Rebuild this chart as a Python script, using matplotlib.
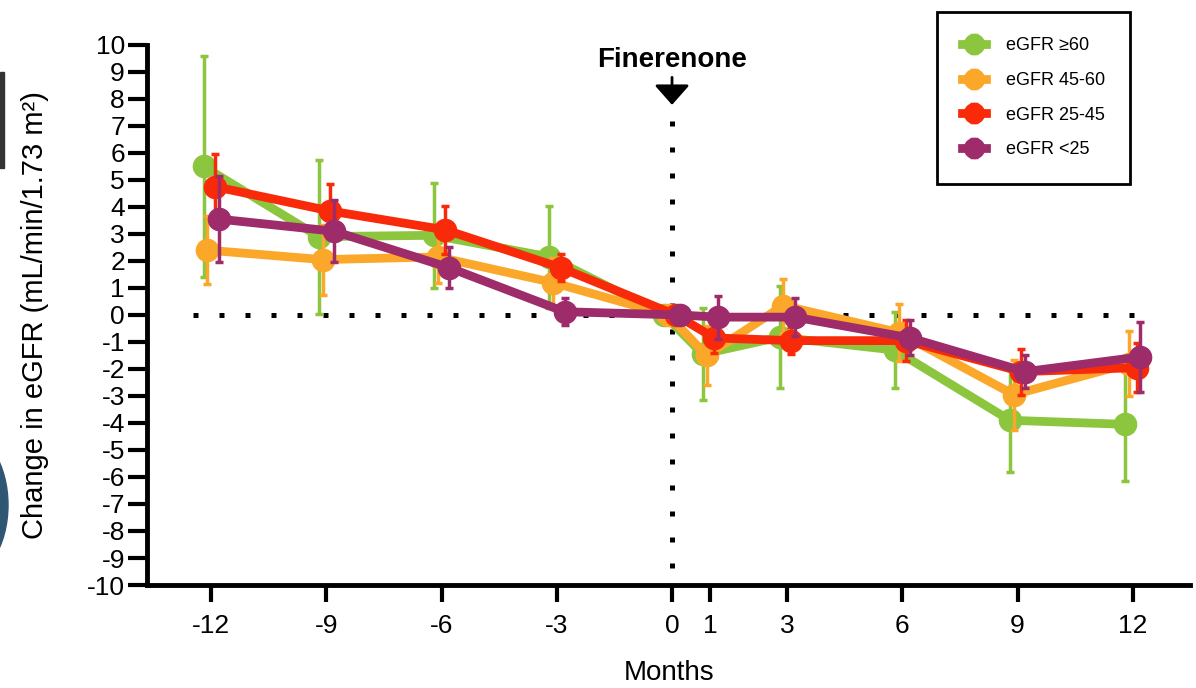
import matplotlib
matplotlib.use("Agg")
import matplotlib.pyplot as plt
from matplotlib.patches import Rectangle, Ellipse

plt.rcParams['font.family'] = ['Liberation Sans', 'DejaVu Sans']
plt.rcParams['axes.unicode_minus'] = False

# --- data ---
months = [-12, -9, -6, -3, 0, 1, 3, 6, 9, 12]
groups = ["eGFR \u226560", "eGFR 45-60", "eGFR 25-45", "eGFR <25"]
colors = ["#8cc63e", "#fba72a", "#f82a0a", "#9e2b6a"]
offsets = [-0.2, -0.1, 0.1, 0.2]

egfr_ge60 = [5.5, 2.9, 2.95, 2.15, 0.0, -1.45, -0.82, -1.3, -3.9, -4.05]
egfr_45_60 = [2.4, 2.05, 2.15, 1.2, 0.0, -1.5, 0.35, -0.65, -2.95, -1.8]
egfr_25_45 = [4.75, 3.85, 3.15, 1.75, 0.0, -0.85, -0.95, -0.95, -2.1, -1.95]
egfr_lt25 = [3.55, 3.1, 1.75, 0.12, 0.0, -0.08, -0.08, -0.85, -2.1, -1.55]

err_ge60 = [4.1, 2.85, 1.95, 1.9, 0.0, 1.7, 1.9, 1.4, 1.9, 2.1]
err_45_60 = [1.25, 1.3, 0.95, 0.9, 0.0, 1.1, 1.0, 1.05, 1.3, 1.2]
err_25_45 = [1.2, 1.0, 0.9, 0.5, 0.0, 0.55, 0.5, 0.75, 0.85, 0.9]
err_lt25 = [1.6, 1.15, 0.75, 0.5, 0.0, 0.8, 0.7, 0.65, 0.6, 1.3]

series = [egfr_ge60, egfr_45_60, egfr_25_45, egfr_lt25]
errors = [err_ge60, err_45_60, err_25_45, err_lt25]

fig = plt.figure(figsize=(11.96, 6.88), dpi=100)
ax = fig.add_axes([0.123, 0.1497, 0.872, 0.785])

for i in range(4):
    xs = [m + offsets[i] for m in months]
    ax.errorbar(xs, series[i], yerr=errors[i], color=colors[i], lw=6.3,
                marker='o', ms=16, elinewidth=2.5, capsize=3, capthick=2.5,
                label=groups[i], zorder=3 + i)

# reference lines (dotted)
dot = (0, (1, 4.2))
ax.plot([-12.47, 12.3], [0, 0], color='black', lw=3.6, ls=dot, zorder=2)
ax.plot([0, 0], [7.2, -10], color='black', lw=3.6, ls=dot, zorder=2)

# Finerenone marker
ax.annotate("", xy=(0, 7.78), xytext=(0, 8.8),
            arrowprops=dict(arrowstyle='-|>,head_width=1.08,head_length=1.22',
                            color='black', lw=2, shrinkA=0, shrinkB=0))
ax.text(0, 9.44, "Finerenone", ha='center', va='center', fontsize=20,
        fontweight='bold')

ax.set_xlim(-13.67, 13.49)
ax.set_ylim(-10, 10)
ax.set_xticks(months)
ax.set_xticklabels([str(m) for m in months])
ax.set_yticks(range(-10, 11))
ax.tick_params(axis='y', labelsize=19, length=14, width=3, pad=2)
ax.tick_params(axis='x', labelsize=19, length=12, width=3, pad=9)
for s in ['top', 'right']:
    ax.spines[s].set_visible(False)
for s in ['left', 'bottom']:
    ax.spines[s].set_linewidth(3.5)

ax.set_xlabel("Months", fontsize=20, labelpad=16)
ax.set_ylabel("Change in eGFR (mL/min/1.73 m\u00b2)", fontsize=21)
ax.yaxis.set_label_coords(-0.094, 0.5)

leg = ax.legend(loc='upper left', bbox_to_anchor=(937 / 1196, 1 - 12 / 688),
                bbox_transform=fig.transFigure, borderaxespad=0, fontsize=13,
                frameon=True, fancybox=False, edgecolor='black',
                handlelength=1.3, handletextpad=1.1, borderpad=1.4,
                labelspacing=0.98, markerscale=0.9)
leg.get_frame().set_linewidth(2)
leg.get_frame().set_alpha(1)

# scanned-page artefacts at the left edge
fig.patches.append(Rectangle((0, 1 - 168 / 688), 4 / 1196, 96 / 688,
                             transform=fig.transFigure, color='#333333'))
fig.patches.append(Ellipse((-40 / 1196, 1 - 505 / 688), 96 / 1196, 150 / 688,
                           transform=fig.transFigure, color='#2f5773'))

fig.savefig("out.png", dpi=100)
